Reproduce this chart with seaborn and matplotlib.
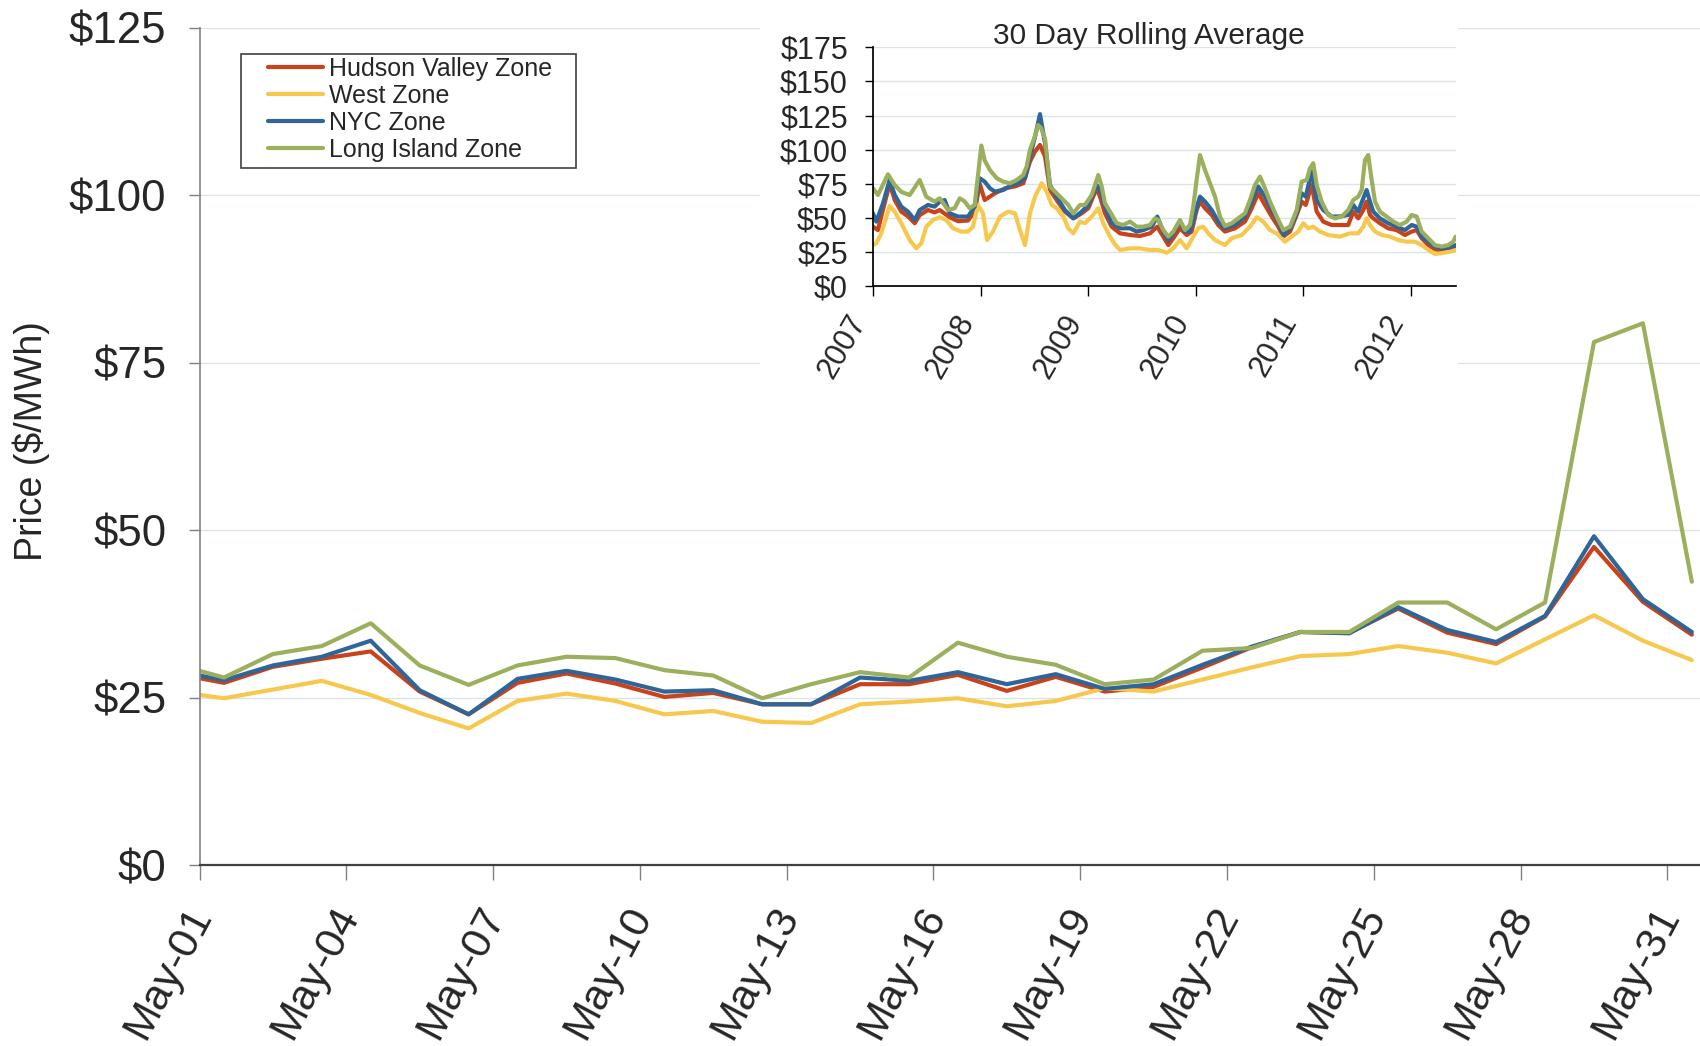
import pandas as pd
import matplotlib
matplotlib.use('Agg')
import matplotlib.pyplot as plt
import matplotlib.transforms as mtransforms
from matplotlib.patches import Rectangle
import seaborn as sns

# daily prices, May 2012 (first value is Apr-30, mostly left of the axis)
days = pd.date_range('2012-04-30 12:00', '2012-05-31 12:00', freq='D')
hudson = [28.6, 27.2, 29.6, 30.8, 31.9, 25.9, 22.5, 27.2, 28.6, 27.1, 25.1, 25.7, 24.0, 24.0, 27.0, 27.0,
          28.4, 26.0, 28.1, 25.9, 26.6, 29.5, 32.5, 34.8, 34.7, 38.3, 34.7, 33.0, 37.1, 47.5, 39.3, 34.4]
west = [25.9, 24.9, 26.2, 27.5, 25.4, 22.7, 20.4, 24.5, 25.6, 24.5, 22.5, 23.0, 21.4, 21.2, 24.0, 24.4,
        24.9, 23.7, 24.5, 26.4, 25.9, 27.7, 29.5, 31.2, 31.5, 32.7, 31.7, 30.1, 33.7, 37.3, 33.5, 30.6]
nyc = [29.0, 27.6, 29.8, 31.1, 33.5, 26.1, 22.5, 27.8, 29.0, 27.7, 25.9, 26.1, 24.0, 24.0, 28.0, 27.5,
       28.8, 27.0, 28.5, 26.3, 27.0, 29.9, 32.6, 34.8, 34.6, 38.5, 35.1, 33.3, 37.2, 49.1, 39.7, 34.8]
long_island = [30.0, 28.0, 31.5, 32.7, 36.1, 29.8, 26.9, 29.8, 31.1, 30.9, 29.1, 28.3, 24.9, 27.0, 28.8, 28.0,
               33.2, 31.1, 29.9, 27.0, 27.7, 32.0, 32.4, 34.8, 34.8, 39.2, 39.2, 35.2, 39.2, 78.1, 80.9, 42.3]

zones = ['Hudson Valley Zone', 'West Zone', 'NYC Zone', 'Long Island Zone']
colors = ['#C9421A', '#F6C94E', '#2F6699', '#9BAF5D']

# 30 day rolling average (decimal year, $/MWh)
hv_t = [2007.000, 2007.046, 2007.093, 2007.155, 2007.202, 2007.263, 2007.325, 2007.388, 2007.434, 2007.511,
        2007.573, 2007.620, 2007.713, 2007.790, 2007.883, 2007.945, 2007.992,
        2008.038, 2008.134, 2008.227, 2008.320, 2008.397, 2008.459, 2008.506, 2008.552, 2008.599, 2008.645,
        2008.707, 2008.784, 2008.862, 2008.940,
        2009.001, 2009.079, 2009.110, 2009.156, 2009.218, 2009.296, 2009.389, 2009.482, 2009.574, 2009.642,
        2009.698, 2009.745, 2009.791, 2009.853, 2009.916, 2009.962,
        2010.008, 2010.039, 2010.086, 2010.148, 2010.209, 2010.271, 2010.364, 2010.457, 2010.520, 2010.581,
        2010.643, 2010.706, 2010.767, 2010.813, 2010.876, 2010.938, 2010.984,
        2011.022, 2011.077, 2011.124, 2011.185, 2011.263, 2011.340, 2011.417, 2011.464, 2011.510, 2011.557,
        2011.588, 2011.619, 2011.650, 2011.712, 2011.789, 2011.867, 2011.944,
        2012.007, 2012.053, 2012.100, 2012.161, 2012.223, 2012.285, 2012.363, 2012.416]
hv_v = [43.5, 41, 56, 75, 63, 54.5, 51, 46, 52, 55.7, 54, 55.7, 50.4, 47.5, 48, 54.5, 75,
        63, 68, 71.6, 73, 75.3, 91.2, 98.6, 103.4, 94.9, 70.4, 63, 54.5, 49.6, 53.3,
        57, 71.6, 65.5, 53.3, 43.5, 38.6, 37.4, 36.7, 38.6, 43.5, 36.2, 30, 35, 42.3, 37.4, 39.9,
        55.7, 61.9, 57, 52.1, 44.7, 39.9, 42.3, 47.2, 57, 68, 59.4, 50.9, 43.5, 36.2, 39.9, 52.1, 61.9,
        59.4, 74, 54.5, 47.2, 44.7, 44.7, 44.7, 54.5, 49.6, 55.7, 61.9, 52.1, 49.6, 46, 42.3, 41, 37.4,
        39.9, 41, 35, 30, 26.9, 25.9, 26.9, 28.9]

west_t = [2007.000, 2007.031, 2007.077, 2007.155, 2007.202, 2007.263, 2007.341, 2007.402, 2007.449, 2007.495,
          2007.558, 2007.620, 2007.681, 2007.744, 2007.821, 2007.883, 2007.929, 2007.976,
          2008.022, 2008.060, 2008.115, 2008.180, 2008.257, 2008.320, 2008.366, 2008.413, 2008.459, 2008.506,
          2008.568, 2008.614, 2008.661, 2008.707, 2008.769, 2008.815, 2008.862, 2008.924, 2008.970,
          2009.033, 2009.094, 2009.140, 2009.203, 2009.240, 2009.296, 2009.389, 2009.482, 2009.574, 2009.652,
          2009.730, 2009.791, 2009.853, 2009.916, 2009.977,
          2010.023, 2010.070, 2010.116, 2010.179, 2010.271, 2010.334, 2010.427, 2010.504, 2010.566, 2010.627,
          2010.690, 2010.752, 2010.829, 2010.891, 2010.953, 2010.999,
          2011.046, 2011.092, 2011.154, 2011.232, 2011.340, 2011.433, 2011.510, 2011.557, 2011.588, 2011.619,
          2011.666, 2011.728, 2011.805, 2011.882, 2011.960,
          2012.037, 2012.100, 2012.161, 2012.223, 2012.285, 2012.363, 2012.416]
west_v = [30, 31.3, 38.6, 58.7, 54.5, 46, 33.7, 27.6, 31.3, 43.5, 48.4, 50.4, 48.4, 42.3, 39.9, 39.9, 43.5, 59.4,
          53.3, 33.7, 40, 50.9, 54.5, 53.3, 41, 30, 53.3, 65.5, 75.3, 69.2, 59.4, 57, 50.9, 42.3, 38.6, 47.2, 46,
          50.9, 57, 46, 36.2, 31.3, 26.4, 27.6, 27.6, 26.4, 26.4, 24.4, 27.6, 33.7, 27.6, 36.2,
          42.3, 43.5, 38.6, 33.7, 30, 35, 37.4, 43.5, 50.4, 47.2, 41, 38.6, 32.5, 36.2, 39.9, 46,
          42.3, 43.5, 39.9, 37.4, 36.2, 38.6, 38.6, 43.5, 49.6, 44.7, 39.9, 37.4, 36.2, 33.7, 32.5,
          32.5, 30, 26.4, 23.5, 24, 25.2, 26.4]

nyc_t = [2007.000, 2007.031, 2007.093, 2007.155, 2007.202, 2007.263, 2007.325, 2007.388, 2007.434, 2007.511,
         2007.573, 2007.620, 2007.666, 2007.713, 2007.790, 2007.883, 2007.945, 2007.992,
         2008.038, 2008.087, 2008.134, 2008.211, 2008.289, 2008.350, 2008.413, 2008.459, 2008.506, 2008.552,
         2008.599, 2008.645, 2008.707, 2008.784, 2008.862, 2008.940,
         2009.001, 2009.079, 2009.110, 2009.156, 2009.218, 2009.296, 2009.389, 2009.451, 2009.512, 2009.590,
         2009.642, 2009.698, 2009.745, 2009.791, 2009.853, 2009.900, 2009.946, 2009.993,
         2010.039, 2010.086, 2010.148, 2010.209, 2010.271, 2010.364, 2010.457, 2010.520, 2010.581, 2010.643,
         2010.706, 2010.767, 2010.813, 2010.876, 2010.938, 2010.984,
         2011.022, 2011.077, 2011.124, 2011.185, 2011.263, 2011.340, 2011.417, 2011.464, 2011.510, 2011.557,
         2011.588, 2011.619, 2011.650, 2011.712, 2011.789, 2011.867, 2011.944,
         2012.007, 2012.053, 2012.100, 2012.161, 2012.223, 2012.285, 2012.363, 2012.416]
nyc_v = [53.3, 47.2, 60.6, 77.8, 66.7, 58.2, 54.5, 48.4, 55.7, 59.4, 58.2, 61.9, 63, 53.3, 50.9, 50.9, 58.2, 79,
         76.5, 71.6, 69.2, 70.4, 74, 75.3, 79, 94.9, 109.5, 126, 104.6, 74, 65.5, 55.7, 49.6, 54.5,
         59.4, 74, 70.4, 58.2, 46, 42.3, 42.3, 39.9, 41, 43.5, 50.9, 39.9, 33.7, 38.6, 47.2, 39.9, 39.9, 53.3,
         65.5, 61.9, 55.7, 47.2, 42.3, 44.7, 50.9, 61.9, 72.9, 65.5, 55.7, 47.2, 37.4, 42.3, 53.3, 68,
         65.5, 83.9, 63, 55.7, 50.9, 51, 52.1, 59.4, 54.5, 64.3, 70.4, 61.9, 54.5, 49.6, 46, 43.5, 41,
         44.7, 43.5, 36.2, 32.5, 28.9, 27.6, 28.4, 30]

li_t = [2007.000, 2007.046, 2007.139, 2007.202, 2007.263, 2007.341, 2007.434, 2007.495, 2007.573, 2007.620,
        2007.697, 2007.759, 2007.806, 2007.852, 2007.899, 2007.945,
        2008.007, 2008.038, 2008.087, 2008.150, 2008.211, 2008.273, 2008.336, 2008.397, 2008.428, 2008.459,
        2008.506, 2008.534, 2008.561, 2008.599, 2008.645, 2008.691, 2008.754, 2008.815, 2008.862, 2008.924,
        2008.970,
        2009.033, 2009.094, 2009.126, 2009.156, 2009.203, 2009.265, 2009.326, 2009.389, 2009.451, 2009.512,
        2009.574, 2009.621, 2009.652, 2009.698, 2009.745, 2009.791, 2009.853, 2009.900, 2009.946, 2009.977,
        2010.008, 2010.039, 2010.086, 2010.132, 2010.179, 2010.225, 2010.271, 2010.334, 2010.395, 2010.457,
        2010.504, 2010.550, 2010.597, 2010.643, 2010.690, 2010.752, 2010.813, 2010.876, 2010.938, 2010.984,
        2011.031, 2011.061, 2011.092, 2011.124, 2011.170, 2011.232, 2011.294, 2011.356, 2011.417, 2011.464,
        2011.510, 2011.542, 2011.573, 2011.603, 2011.635, 2011.666, 2011.712, 2011.774, 2011.836, 2011.898,
        2011.960,
        2012.007, 2012.053, 2012.100, 2012.161, 2012.223, 2012.285, 2012.347, 2012.393, 2012.416]
li_v = [71.6, 66.7, 81.9, 74, 69, 66.7, 77.7, 65.5, 61.9, 64.3, 55.7, 57, 64.3, 62, 57, 59.4,
        103, 92, 85, 79, 76.5, 75.3, 77.7, 81.4, 87.5, 99.8, 110, 118, 116, 108, 72.9, 69.2, 64.3, 59.4, 53.3,
        59.4, 59.4,
        66.7, 81.4, 72.9, 60.6, 54.5, 46, 44.7, 47.2, 43.5, 43.5, 44.7, 49.6, 48.4, 41, 36.2, 39.9, 48.4, 41,
        44.7, 58.2,
        77.7, 96, 85, 75.3, 65.5, 50.9, 44, 46, 49.6, 53.3, 63, 74, 80.2, 71.6, 61.9, 50.9, 41, 43.5, 55.7, 76.5,
        77.7, 86.3, 90, 74, 61.9, 52.1, 49.6, 50.9, 55.7, 63, 65.5, 70.4, 92.4, 96, 77.7, 61.9, 54.5, 50.9, 47.2,
        44.7, 47.2,
        52.1, 50.9, 39.9, 35, 30, 28.9, 30, 32.5, 36.2]

sns.set_theme(style='white')
plt.rcParams['font.family'] = ['Liberation Sans', 'DejaVu Sans']

W, H = 1700, 1046
fig = plt.figure(figsize=(17, 10.46), dpi=100)

# ---- main chart
ax = fig.add_axes([199.5 / W, 1 - 865 / H, 1 - 199.5 / W, (865 - 28) / H])
for vals, name, c in zip([hudson, west, nyc, long_island], zones, colors):
    sns.lineplot(x=days, y=vals, ax=ax, color=c, lw=3, label=name)

ax.set_ylim(0, 125)
ax.set_yticks(range(0, 126, 25))
ax.set_yticklabels(['${}'.format(v) for v in range(0, 126, 25)], fontsize=31.5)
ax.set_xlim(pd.Timestamp('2012-05-01'), pd.Timestamp('2012-05-31 16:00'))
tick_days = pd.date_range('2012-05-01', '2012-05-31', freq='3D')
ax.set_xticks(tick_days)
ax.set_xticklabels([d.strftime('%b-%d') for d in tick_days], rotation=62, ha='right', fontsize=31)

ax.yaxis.grid(True, color='#D8E4E6', lw=1)
ax.set_axisbelow(True)
ax.tick_params(axis='x', bottom=True, length=11, width=1, color='#808080', pad=14)
ax.tick_params(axis='y', left=True, length=8, width=1, color='#808080', pad=16)
# tick_params resets the label transforms, so shift the date labels afterwards
shift = mtransforms.ScaledTranslation(20 / 100, 0, fig.dpi_scale_trans)
for lbl in ax.get_xticklabels():
    lbl.set_transform(lbl.get_transform() + shift)

for s in ['top', 'right']:
    ax.spines[s].set_visible(False)
ax.spines['left'].set_color('#868686')
ax.spines['bottom'].set_color('#404040')
ax.spines['bottom'].set_linewidth(1.6)
ax.set_xlabel('')
ax.set_ylabel('')
fig.text(31 / W, 1 - 441 / H, 'Price ($/MWh)', rotation=90, ha='center', va='center', fontsize=27)

ax.legend(loc='upper left', bbox_to_anchor=(268 / W, 1 - 57 / H), bbox_transform=fig.transFigure,
          frameon=False, fontsize=18, handlelength=2.2, handletextpad=0.25, labelspacing=0.12,
          borderpad=0.0, borderaxespad=0)
fig.add_artist(Rectangle((241 / W, 1 - 168 / H), 335 / W, 114 / H, transform=fig.transFigure,
                         facecolor='none', edgecolor='#404040', lw=1.2, zorder=1))

# ---- inset with the rolling average
fig.add_artist(Rectangle((760 / W, 1 - 385 / H), 698 / W, 385 / H, transform=fig.transFigure,
                         facecolor='white', edgecolor='none', zorder=1))
ins = fig.add_axes([873 / W, 1 - 286 / H, 582.7 / W, 238.7 / H], zorder=2)
for t, v, c in zip([hv_t, west_t, nyc_t, li_t], [hv_v, west_v, nyc_v, li_v], colors):
    sns.lineplot(x=t, y=v, ax=ins, color=c, lw=3)

ins.set_xlim(2007, 2012.416)
ins.set_ylim(0, 175)
ins.set_yticks(range(0, 176, 25))
ins.set_yticklabels(['${}'.format(v) for v in range(0, 176, 25)], fontsize=22)
ins.set_xticks(range(2007, 2013))
ins.set_xticklabels([str(y) for y in range(2007, 2013)], rotation=60, ha='right', fontsize=22)
ins.yaxis.grid(True, color='#D8E4E6', lw=1)
ins.set_axisbelow(True)
ins.tick_params(axis='x', bottom=True, length=7, width=1, color='black', pad=10)
ins.tick_params(axis='y', left=True, length=6, width=1, color='black', pad=12)
for s in ['top', 'right']:
    ins.spines[s].set_visible(False)
ins.spines['left'].set_color('black')
ins.spines['bottom'].set_color('black')
ins.set_xlabel('')
ins.set_ylabel('')
fig.text(1149 / W, 1 - 36 / H, '30 Day Rolling Average', ha='center', va='center', fontsize=21.5)

fig.savefig('out.png', dpi=100)
